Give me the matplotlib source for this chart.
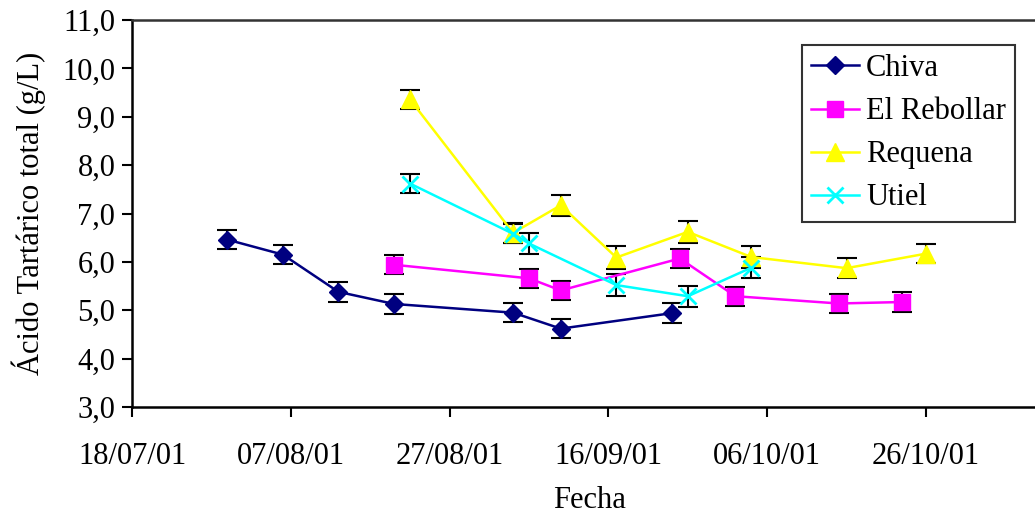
import matplotlib
matplotlib.use("Agg")
import matplotlib.pyplot as plt
import matplotlib.dates as mdates
import numpy as np
import pandas as pd

plt.rcParams['font.family'] = ['Liberation Serif', 'DejaVu Serif']

# ---- data ----
chiva_dates = ["2001-07-30", "2001-08-06", "2001-08-13", "2001-08-20", "2001-09-04", "2001-09-10", "2001-09-24"]
chiva_vals = [6.46, 6.15, 5.38, 5.13, 4.95, 4.62, 4.94]
chiva_err = [0.2, 0.2, 0.2, 0.2, 0.2, 0.2, 0.2]

rebollar_dates = ["2001-08-20", "2001-09-06", "2001-09-10", "2001-09-25", "2001-10-02", "2001-10-15", "2001-10-23"]
rebollar_vals = [5.94, 5.66, 5.41, 6.07, 5.29, 5.14, 5.17]
rebollar_err = [0.2, 0.2, 0.2, 0.2, 0.2, 0.2, 0.2]

requena_dates = ["2001-08-22", "2001-09-04", "2001-09-10", "2001-09-17", "2001-09-26", "2001-10-04", "2001-10-16", "2001-10-26"]
requena_vals = [9.36, 6.60, 7.17, 6.09, 6.62, 6.10, 5.87, 6.17]
requena_err = [0.2, 0.2, 0.22, 0.24, 0.22, 0.22, 0.2, 0.2]

utiel_dates = ["2001-08-22", "2001-09-04", "2001-09-06", "2001-09-17", "2001-09-26", "2001-10-04"]
utiel_vals = [7.62, 6.58, 6.38, 5.52, 5.29, 5.88]
utiel_err = [0.2, 0.2, 0.21, 0.22, 0.22, 0.22]

series = [
    ("Chiva", chiva_dates, chiva_vals, chiva_err, "#000080", "D", 9),
    ("El Rebollar", rebollar_dates, rebollar_vals, rebollar_err, "#FF00FF", "s", 11),
    ("Requena", requena_dates, requena_vals, requena_err, "#FFFF00", "^", 13),
    ("Utiel", utiel_dates, utiel_vals, utiel_err, "#00FFFF", "x", 12),
]

x_start = pd.Timestamp("2001-07-18")
x_end = pd.Timestamp("2001-11-15")
tick_dates = pd.date_range(x_start, periods=6, freq="20D")
y_ticks = np.arange(3.0, 11.01, 1.0)

FS = 22

# ---- figure ----
W, H = 1035, 517
fig = plt.figure(figsize=(W / 100, H / 100), dpi=100)
left = 132 / W
bottom = (H - 407) / H
top = (H - 20) / H
width = (120 * 7.94) / W
ax = fig.add_axes([left, bottom, width, top - bottom])

handles = []
for name, d, v, e, col, mk, ms in series:
    dd = pd.to_datetime(d)
    ax.errorbar(dd, v, yerr=e, fmt="none", ecolor="black", elinewidth=1.5,
                capsize=7, capthick=1.5, zorder=2)
    mew = 2.0 if mk == "x" else 1.0
    h, = ax.plot(dd, v, color=col, lw=1.8, marker=mk, markersize=ms,
                 markerfacecolor=col, markeredgecolor=col, markeredgewidth=mew,
                 label=name, zorder=3)
    handles.append(h)

ax.set_xlim(x_start, x_end)
ax.set_ylim(3.0, 11.0)
ax.set_xticks(tick_dates)
ax.xaxis.set_major_formatter(mdates.DateFormatter("%d/%m/%y"))
ax.set_yticks(y_ticks)
ax.set_yticklabels([f"{t:.1f}".replace(".", ",") for t in y_ticks])

ax.tick_params(axis="both", direction="out", length=7, width=1.5, labelsize=FS, colors="black")
ax.tick_params(axis="x", pad=18)
ax.tick_params(axis="y", pad=5)
for s in ["left", "bottom", "top"]:
    ax.spines[s].set_linewidth(1.8)
    ax.spines[s].set_color("black")
ax.spines["top"].set_color("#333333")
ax.spines["right"].set_visible(False)

ax.set_ylabel("Ácido Tartárico total (g/L)", fontsize=FS, labelpad=12)
fig.text(590 / W, 1 - 500 / H, "Fecha", fontsize=FS, ha="center", va="center")

leg = fig.legend(handles=handles, loc="upper left",
                 bbox_to_anchor=(802 / W, 1 - 45 / H, 0, 0),
                 fontsize=FS, frameon=True, fancybox=False, edgecolor="black",
                 handlelength=1.55, handletextpad=0.25, labelspacing=0.46,
                 borderpad=0.3, borderaxespad=0)
leg.get_frame().set_linewidth(1.5)

fig.savefig("out.png", dpi=100)
